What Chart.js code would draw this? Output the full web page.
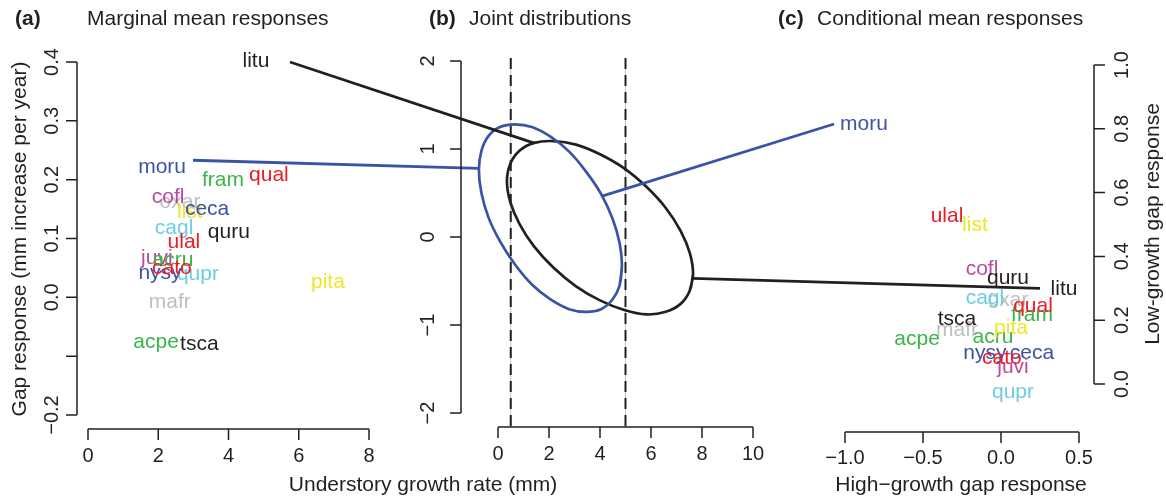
<!DOCTYPE html>
<html>
<head>
<meta charset="utf-8">
<title>Gap responses of understory growth</title>
<script src="https://cdn.jsdelivr.net/npm/chart.js@4.4.1/dist/chart.umd.min.js"></script>
<style>
  html, body { margin: 0; padding: 0; background: #fff; }
  #wrap { width: 1166px; height: 501px; }
</style>
</head>
<body>
<div id="wrap"><canvas id="chart" width="1166" height="501"></canvas></div>
<script>
// species codes, in drawing order
const species = ['litu', 'moru', 'oxar', 'cofl', 'list', 'ceca', 'cagl', 'quru', 'ulal', 'juvi',
                 'acru', 'qupr', 'nysy', 'cato', 'pita', 'mafr', 'acpe', 'tsca', 'fram', 'qual'];

// (a) marginal mean responses
const growthRate  = [4.78, 2.11, 2.62, 2.28, 2.90, 3.39, 2.45, 4.01, 2.73, 1.96,
                     2.42, 3.13, 2.05, 2.39, 6.83, 2.33, 1.94, 3.17, 3.84, 5.15];
const gapResponse = [0.402, 0.222, 0.162, 0.170, 0.145, 0.150, 0.118, 0.111, 0.093, 0.067,
                     0.063, 0.040, 0.041, 0.050, 0.026, -0.008, -0.076, -0.079, 0.199, 0.208];

// (c) conditional mean responses
const highGrowthResponse = [0.404, -0.878, 0.045, -0.122, -0.167, 0.199, -0.103, 0.045, -0.346, 0.077,
                            -0.051, 0.077, -0.103, 0.006, 0.064, -0.282, -0.538, -0.282, 0.199, 0.205];
const lowGrowthResponse  = [0.298, 0.815, 0.263, 0.360, 0.498, 0.097, 0.270, 0.332, 0.527, 0.053,
                            0.147, -0.025, 0.097, 0.082, 0.176, 0.169, 0.141, 0.204, 0.216, 0.245];

// (b) joint distribution contours (growth rate, gap response), read round each outline
const moruJointX = [4.86, 4.77, 4.49, 4.04, 3.46, 2.79, 2.06, 1.33, 0.66, 0.08, -0.37, -0.65,
                    -0.75, -0.65, -0.37, 0.08, 0.66, 1.33, 2.06, 2.79, 3.46, 4.04, 4.49, 4.77];
const moruJointY = [-0.32, -0.55, -0.71, -0.82, -0.85, -0.82, -0.71, -0.54, -0.31, -0.05, 0.22, 0.50,
                    0.76, 0.98, 1.15, 1.25, 1.28, 1.25, 1.14, 0.97, 0.74, 0.49, 0.21, -0.07];
const lituJointX = [7.65, 7.52, 7.16, 6.58, 5.82, 4.95, 4.00, 3.06, 2.18, 1.42, 0.84, 0.48,
                    0.35, 0.48, 0.84, 1.42, 2.18, 3.06, 4.00, 4.95, 5.82, 6.58, 7.16, 7.52];
const lituJointY = [-0.42, -0.61, -0.76, -0.85, -0.88, -0.83, -0.72, -0.56, -0.35, -0.11, 0.15, 0.40,
                    0.63, 0.83, 0.98, 1.07, 1.09, 1.05, 0.94, 0.78, 0.57, 0.33, 0.07, -0.18];
const growthCutoffs = [0.5, 5];

// links between panels: [x, y] in each panel's units
const lituLinkA = [5.75, 0.40];
const lituLinkBIn = [1.42, 1.066];
const lituLinkBOut = [7.63, -0.47];
const lituLinkC = [0.25, 0.30];
const moruLinkA = [2.99, 0.233];
const moruLinkBIn = [-0.745, 0.78];
const moruLinkBOut = [4.08, 0.465];
const moruLinkC = [-1.07, 0.815];

// axis ticks
const aXTicks = [0, 2, 4, 6, 8];
const aYTicks = [-0.2, -0.1, 0, 0.1, 0.2, 0.3, 0.4];
const aYLabels = ['\u22120.2', '', '0.0', '0.1', '0.2', '0.3', '0.4'];
const bXTicks = [0, 2, 4, 6, 8, 10];
const bYTicks = [-2, -1, 0, 1, 2];
const bYLabels = ['\u22122', '\u22121', '0', '1', '2'];
const cXTicks = [-1, -0.5, 0, 0.5];
const cXLabels = ['\u22121.0', '\u22120.5', '0.0', '0.5'];
const cYTicks = [0, 0.2, 0.4, 0.6, 0.8, 1.0];
const cYLabels = ['0.0', '0.2', '0.4', '0.6', '0.8', '1.0'];

// styles
const BLACK = '#231f20', BLUE = '#3a53a4', RED = '#ed1c24', GREEN = '#39b54a',
      MAGENTA = '#b84b9e', CYAN = '#6ccfe0', YELLOW = '#f2e526', GREY = '#bcbec0';
const speciesColour = {
    litu: BLACK, moru: BLUE, oxar: GREY, cofl: MAGENTA, list: YELLOW, ceca: BLUE, cagl: CYAN,
    quru: BLACK, ulal: RED, juvi: MAGENTA, acru: GREEN, qupr: CYAN, nysy: BLUE, cato: RED,
    pita: YELLOW, mafr: GREY, acpe: GREEN, tsca: BLACK, fram: GREEN, qual: RED
};
const FONT = '"Liberation Sans", Arial, Helvetica, sans-serif';
const W = 1166, H = 501;

// pixel frame of each panel (value -> pixel anchors) and axis positions
const frame = {
    a: { x: [0, 88, 8, 369], y: [-0.2, 415, 0.4, 62], xAxis: 429, yAxis: 77, xLab: 456, yLab: 52 },
    b: { x: [0, 498, 10, 753], y: [-2, 413, 2, 61], xAxis: 427, yAxis: 461, xLab: 454, yLab: 428 },
    c: { x: [-1, 845, 0.5, 1079], y: [0, 384, 1, 65], xAxis: 432, yAxis: 1094, xLab: 458, yLab: 1122 }
};
const TICK = 11;

function spanX(f) {
    const [v0, p0, v1, p1] = f;
    const k = (p1 - p0) / (v1 - v0);
    const min = v0 - p0 / k;
    return { min: min, max: min + W / k };
}
function spanY(f) {
    const [v0, p0, v1, p1] = f;
    const k = (p0 - p1) / (v1 - v0);
    const min = v0 - (H - p0) / k;
    return { min: min, max: min + H / k };
}
function hiddenScale(span) {
    return { type: 'linear', display: false, bounds: 'data', min: span.min, max: span.max };
}
function points(xs, ys) {
    return xs.map((x, i) => ({ x: x, y: ys[i] }));
}
function loop(xs, ys) {
    // closed contour: repeat the first points so the spline joins smoothly
    const p = points(xs, ys);
    return p.concat([p[0], p[1]]);
}

function drawXAxis(ctx, scale, ticks, labels, f) {
    const x0 = scale.getPixelForValue(ticks[0]);
    const x1 = scale.getPixelForValue(ticks[ticks.length - 1]);
    ctx.beginPath();
    ctx.moveTo(x0, f.xAxis);
    ctx.lineTo(x1, f.xAxis);
    ticks.forEach(t => {
        const px = scale.getPixelForValue(t);
        ctx.moveTo(px, f.xAxis);
        ctx.lineTo(px, f.xAxis + TICK);
    });
    ctx.stroke();
    ctx.textAlign = 'center';
    ctx.textBaseline = 'middle';
    ticks.forEach((t, i) => {
        ctx.fillText(labels ? labels[i] : String(t), scale.getPixelForValue(t), f.xLab);
    });
}
function drawYAxis(ctx, scale, ticks, labels, f, side) {
    const y0 = scale.getPixelForValue(ticks[0]);
    const y1 = scale.getPixelForValue(ticks[ticks.length - 1]);
    ctx.beginPath();
    ctx.moveTo(f.yAxis, y0);
    ctx.lineTo(f.yAxis, y1);
    ticks.forEach(t => {
        const py = scale.getPixelForValue(t);
        ctx.moveTo(f.yAxis, py);
        ctx.lineTo(f.yAxis + side * TICK, py);
    });
    ctx.stroke();
    ticks.forEach((t, i) => {
        const txt = labels ? labels[i] : String(t);
        if (!txt) return;
        rotatedText(ctx, txt, f.yLab, scale.getPixelForValue(t));
    });
}
function rotatedText(ctx, txt, x, y) {
    ctx.save();
    ctx.translate(x, y);
    ctx.rotate(-Math.PI / 2);
    ctx.textAlign = 'center';
    ctx.textBaseline = 'middle';
    ctx.fillText(txt, 0, 0);
    ctx.restore();
}

const decorations = {
    id: 'decorations',
    beforeDatasetsDraw(chart) {
        const ctx = chart.ctx, s = chart.scales;
        const top = s.yb.getPixelForValue(bYTicks[bYTicks.length - 1]) - 3;
        ctx.save();
        growthCutoffs.forEach(g => {
            const px = s.xb.getPixelForValue(g);
            ctx.strokeStyle = '#c4c4c4';
            ctx.lineWidth = 1;
            ctx.setLineDash([]);
            ctx.beginPath();
            ctx.moveTo(px, top);
            ctx.lineTo(px, frame.b.xAxis);
            ctx.stroke();
            ctx.strokeStyle = BLACK;
            ctx.lineWidth = 2;
            ctx.setLineDash([11, 6]);
            ctx.beginPath();
            ctx.moveTo(px, top);
            ctx.lineTo(px, frame.b.xAxis);
            ctx.stroke();
        });
        ctx.restore();
    },
    afterDatasetsDraw(chart) {
        const ctx = chart.ctx, s = chart.scales;
        ctx.save();

        // links from (a) to the contours in (b) and on to (c)
        ctx.lineWidth = 2.8;
        ctx.lineCap = 'butt';
        [[lituLinkA, lituLinkBIn, lituLinkBOut, lituLinkC, BLACK],
         [moruLinkA, moruLinkBIn, moruLinkBOut, moruLinkC, BLUE]].forEach(l => {
            ctx.strokeStyle = l[4];
            ctx.beginPath();
            ctx.moveTo(s.xa.getPixelForValue(l[0][0]), s.ya.getPixelForValue(l[0][1]));
            ctx.lineTo(s.xb.getPixelForValue(l[1][0]), s.yb.getPixelForValue(l[1][1]));
            ctx.moveTo(s.xb.getPixelForValue(l[2][0]), s.yb.getPixelForValue(l[2][1]));
            ctx.lineTo(s.xc.getPixelForValue(l[3][0]), s.yc.getPixelForValue(l[3][1]));
            ctx.stroke();
        });

        // species codes
        ctx.font = '21px ' + FONT;
        ctx.textAlign = 'center';
        ctx.textBaseline = 'middle';
        chart.data.datasets.forEach((ds, i) => {
            if (!ds.speciesLabels) return;
            chart.getDatasetMeta(i).data.forEach((pt, j) => {
                ctx.fillStyle = speciesColour[species[j]];
                ctx.fillText(species[j], pt.x, pt.y);
            });
        });

        // axes
        ctx.strokeStyle = BLACK;
        ctx.fillStyle = BLACK;
        ctx.lineWidth = 1.5;
        ctx.font = '20px ' + FONT;
        drawXAxis(ctx, s.xa, aXTicks, null, frame.a);
        drawYAxis(ctx, s.ya, aYTicks, aYLabels, frame.a, -1);
        drawXAxis(ctx, s.xb, bXTicks, null, frame.b);
        drawYAxis(ctx, s.yb, bYTicks, bYLabels, frame.b, -1);
        drawXAxis(ctx, s.xc, cXTicks, cXLabels, frame.c);
        drawYAxis(ctx, s.yc, cYTicks, cYLabels, frame.c, 1);

        // axis titles
        ctx.font = '21px ' + FONT;
        ctx.textAlign = 'center';
        ctx.textBaseline = 'middle';
        ctx.fillText('Understory growth rate (mm)', 423, 485);
        ctx.fillText('High\u2212growth gap response', 961, 485);
        rotatedText(ctx, 'Gap response (mm increase per year)', 20, 239);
        rotatedText(ctx, 'Low-growth gap response', 1153, 224);

        // panel titles
        ctx.textAlign = 'left';
        ctx.textBaseline = 'alphabetic';
        ctx.font = 'bold 21px ' + FONT;
        ctx.fillText('(a)', 15, 25);
        ctx.fillText('(b)', 429, 25);
        ctx.fillText('(c)', 778, 25);
        ctx.font = '21px ' + FONT;
        ctx.fillText('Marginal mean responses', 87, 25);
        ctx.fillText('Joint distributions', 469, 25);
        ctx.fillText('Conditional mean responses', 817, 25);

        ctx.restore();
    }
};

const lineStyle = {
    showLine: true, pointRadius: 0, borderWidth: 2.7, tension: 0.4,
    fill: false, borderJoinStyle: 'round', xAxisID: 'xb', yAxisID: 'yb'
};

new Chart(document.getElementById('chart'), {
    type: 'scatter',
    data: {
        datasets: [
            Object.assign({ label: 'moru joint', data: loop(moruJointX, moruJointY), borderColor: BLUE }, lineStyle),
            Object.assign({ label: 'litu joint', data: loop(lituJointX, lituJointY), borderColor: BLACK }, lineStyle),
            {
                label: 'marginal', data: points(growthRate, gapResponse), speciesLabels: true,
                pointRadius: 0, xAxisID: 'xa', yAxisID: 'ya'
            },
            {
                label: 'conditional', data: points(highGrowthResponse, lowGrowthResponse), speciesLabels: true,
                pointRadius: 0, xAxisID: 'xc', yAxisID: 'yc'
            }
        ]
    },
    options: {
        responsive: false,
        devicePixelRatio: 1,
        animation: false,
        events: [],
        layout: { padding: 0 },
        plugins: { legend: { display: false }, tooltip: { enabled: false }, title: { display: false } },
        scales: {
            xa: hiddenScale(spanX(frame.a.x)),
            ya: hiddenScale(spanY(frame.a.y)),
            xb: hiddenScale(spanX(frame.b.x)),
            yb: hiddenScale(spanY(frame.b.y)),
            xc: hiddenScale(spanX(frame.c.x)),
            yc: hiddenScale(spanY(frame.c.y))
        }
    },
    plugins: [decorations]
});
</script>
</body>
</html>
